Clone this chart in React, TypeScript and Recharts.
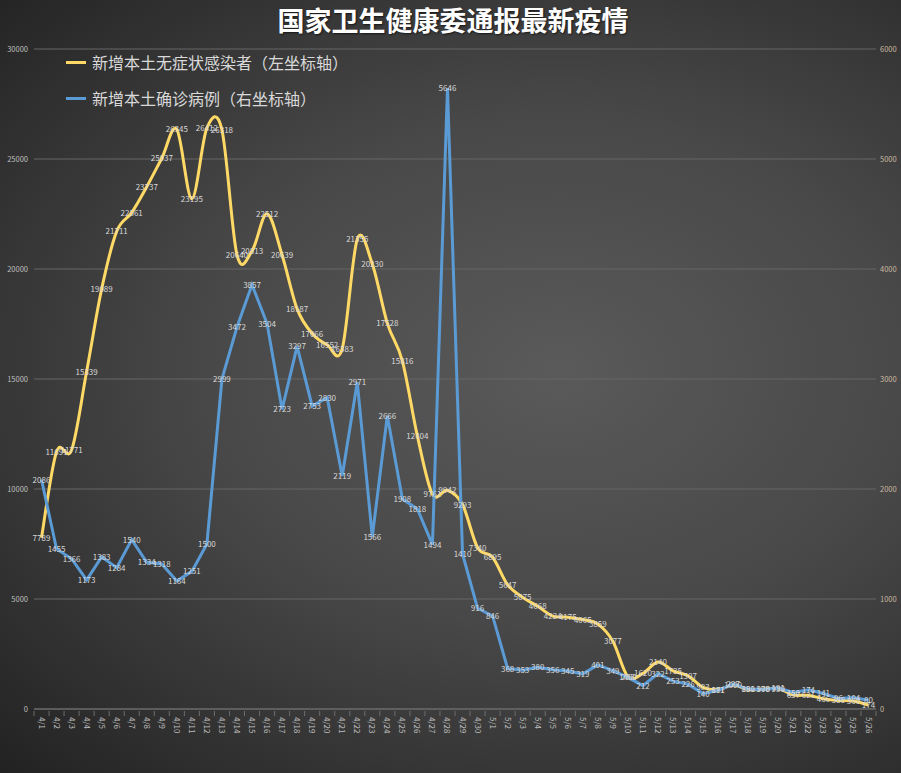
import { LineChart, Line, XAxis, YAxis, CartesianGrid } from 'recharts';

const dates = [
  '4/1', '4/2', '4/3', '4/4', '4/5', '4/6', '4/7', '4/8', '4/9', '4/10',
  '4/11', '4/12', '4/13', '4/14', '4/15', '4/16', '4/17', '4/18', '4/19', '4/20',
  '4/21', '4/22', '4/23', '4/24', '4/25', '4/26', '4/27', '4/28', '4/29', '4/30',
  '5/1', '5/2', '5/3', '5/4', '5/5', '5/6', '5/7', '5/8', '5/9', '5/10',
  '5/11', '5/12', '5/13', '5/14', '5/15', '5/16', '5/17', '5/18', '5/19', '5/20',
  '5/21', '5/22', '5/23', '5/24', '5/25', '5/26',
];

// 新增本土无症状感染者 (left axis)
const asymptomatic = [
  7789, 11691, 11771, 15339, 19089, 21711, 22561, 23737, 25037, 26345,
  23195, 26412, 26318, 20640, 20813, 22512, 20639, 18187, 17066, 16552,
  16383, 21355, 20230, 17528, 15816, 12404, 9761, 9942, 9293, 7340,
  6895, 5647, 5075, 4668, 4224, 4175, 4065, 3859, 3077, 1460,
  1620, 2140, 1735, 1507, 983, 881, 1090, 890, 900, 930,
  637, 621, 466, 388, 360, 174,
];

// 新增本土确诊病例 (right axis)
const confirmed = [
  2086, 1455, 1366, 1173, 1383, 1284, 1540, 1334, 1318, 1164,
  1251, 1500, 2999, 3472, 3857, 3504, 2723, 3297, 2753, 2830,
  2119, 2971, 1566, 2666, 1908, 1818, 1494, 5646, 1410, 916,
  846, 368, 353, 380, 356, 345, 319, 401, 349, 288,
  212, 322, 253, 226, 140, 171, 227, 181, 178, 191,
  150, 174, 141, 96, 104, 80,
];

const leftTicks = [0, 5000, 10000, 15000, 20000, 25000, 30000];
const rightTicks = [0, 1000, 2000, 3000, 4000, 5000, 6000];

const data = dates.map((d, i) => ({ date: d, asym: asymptomatic[i], conf: confirmed[i] }));

const FONT = '"Noto Sans CJK SC", "Noto Sans", sans-serif';

// Excel-like smoothing (Catmull-Rom through the points)
const excelSmooth = (context: any) => {
  let pts: number[][] = [];
  return {
    areaStart() {},
    areaEnd() {},
    lineStart() {
      pts = [];
    },
    point(x: number, y: number) {
      pts.push([+x, +y]);
    },
    lineEnd() {
      if (!pts.length) return;
      context.moveTo(pts[0][0], pts[0][1]);
      for (let i = 0; i < pts.length - 1; i++) {
        const p0 = pts[Math.max(i - 1, 0)];
        const p1 = pts[i];
        const p2 = pts[i + 1];
        const p3 = pts[Math.min(i + 2, pts.length - 1)];
        context.bezierCurveTo(
          p1[0] + (p2[0] - p0[0]) / 6,
          p1[1] + (p2[1] - p0[1]) / 6,
          p2[0] - (p3[0] - p1[0]) / 6,
          p2[1] - (p3[1] - p1[1]) / 6,
          p2[0],
          p2[1]
        );
      }
    },
  };
};

const renderLabel = (props: any) => {
  const { x, y, value, index } = props;
  return (
    <text key={index} x={x} y={y} dy={3} textAnchor="middle" fontSize={8} fill="#d9d9d9" fontFamily={FONT}>
      {value}
    </text>
  );
};

const DateTick = (props: any) => {
  const { x, y, payload, index } = props;
  const half = 7.5;
  return (
    <g>
      <line x1={x - half} y1={y} x2={x - half} y2={y + 5} stroke="#6e6e6e" />
      {index === dates.length - 1 && <line x1={x + half} y1={y} x2={x + half} y2={y + 5} stroke="#6e6e6e" />}
      <text
        x={x}
        y={y + 6}
        dy={3}
        transform={`rotate(90, ${x}, ${y + 6})`}
        textAnchor="start"
        fontSize={8}
        fill="#bfbfbf"
        fontFamily={FONT}
      >
        {payload.value}
      </text>
    </g>
  );
};

const legendItems = [
  { color: '#ffd966', name: '新增本土无症状感染者（左坐标轴）', top: 52 },
  { color: '#5b9bd5', name: '新增本土确诊病例（右坐标轴）', top: 88 },
];

export default function App() {
  return (
    <div
      style={{
        position: 'absolute',
        left: 0,
        top: 0,
        width: 901,
        height: 773,
        overflow: 'hidden',
        background: 'radial-gradient(ellipse farthest-corner at 62% 48%, #5a5a5a 0%, #484848 45%, #222222 100%)',
      }}
    >
      <div
        style={{
          position: 'absolute',
          left: 0,
          top: 3,
          width: 906,
          textAlign: 'center',
          color: '#ffffff',
          fontSize: 27,
          fontWeight: 'bold',
          fontFamily: FONT,
          textShadow: '1px 1px 2px rgba(0,0,0,0.6)',
          lineHeight: '34px',
        }}
      >
        国家卫生健康委通报最新疫情
      </div>
      <LineChart width={901} height={773} data={data} margin={{ top: 49, right: 0, bottom: 0, left: 0 }}>
        <CartesianGrid yAxisId="left" vertical={false} stroke="#666666" />
        <XAxis
          dataKey="date"
          interval={0}
          padding={{ left: 7.5, right: 7.5 }}
          height={64}
          tickLine={false}
          tickSize={0}
          tick={<DateTick />}
          axisLine={{ stroke: '#6e6e6e' }}
        />
        <YAxis
          yAxisId="left"
          width={34}
          domain={[0, 30000]}
          ticks={leftTicks}
          axisLine={false}
          tickLine={false}
          tickSize={0}
          tickMargin={6}
          tick={{ fontSize: 7.5, fill: '#bfbfbf', fontFamily: FONT }}
        />
        <YAxis
          yAxisId="right"
          orientation="right"
          width={25}
          domain={[0, 6000]}
          ticks={rightTicks}
          axisLine={false}
          tickLine={false}
          tickSize={0}
          tickMargin={4}
          tick={{ fontSize: 7.5, fill: '#c9b8a0', fontFamily: FONT, textAnchor: 'start' }}
        />
        <Line
          yAxisId="left"
          dataKey="asym"
          type={excelSmooth as any}
          stroke="#ffd966"
          strokeWidth={3}
          dot={false}
          label={renderLabel}
          isAnimationActive={false}
        />
        <Line
          yAxisId="right"
          dataKey="conf"
          type="linear"
          stroke="#5b9bd5"
          strokeWidth={3}
          dot={false}
          label={renderLabel}
          isAnimationActive={false}
        />
      </LineChart>
      {legendItems.map((item) => (
        <div
          key={item.name}
          style={{ position: 'absolute', left: 66, top: item.top, display: 'flex', alignItems: 'center', height: 20 }}
        >
          <div style={{ width: 20, height: 3, background: item.color, marginRight: 6 }} />
          <span style={{ color: '#d9d9d9', fontSize: 16, fontFamily: FONT, whiteSpace: 'nowrap' }}>{item.name}</span>
        </div>
      ))}
    </div>
  );
}
